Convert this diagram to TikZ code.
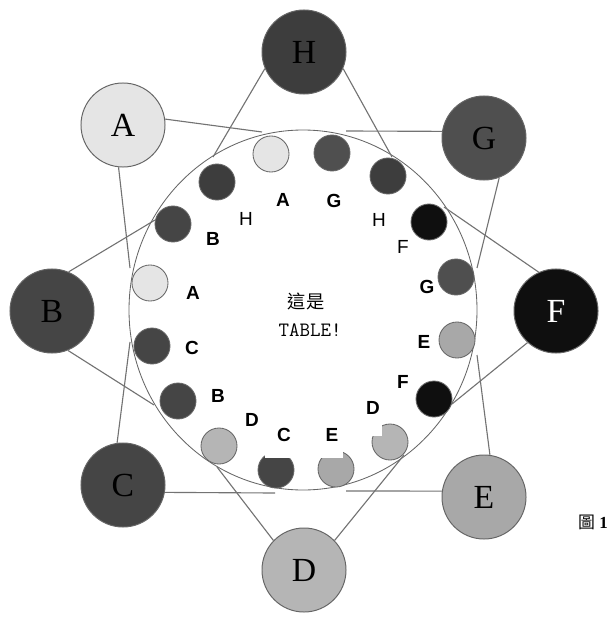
\documentclass[tikz,border=0pt]{standalone}
\usepackage{fontspec}
\setmainfont{Liberation Serif}
\setsansfont{Liberation Sans}
\newfontfamily\cjkfont{Noto Sans CJK TC}

\definecolor{seatA}{gray}{0.90}
\definecolor{seatB}{gray}{0.27}
\definecolor{seatC}{gray}{0.27}
\definecolor{seatD}{gray}{0.71}
\definecolor{seatE}{gray}{0.66}
\definecolor{seatF}{gray}{0.06}
\definecolor{seatG}{gray}{0.31}
\definecolor{seatH}{gray}{0.24}
\definecolor{rimgray}{gray}{0.40}
\definecolor{linkgray}{gray}{0.45}

\tikzset{
  guest/.style={shape=circle,draw=rimgray,line width=0.7pt,minimum size=2.1cm,inner sep=0pt,font=\fontsize{24}{24}\selectfont},
  seat/.style={shape=circle,draw=rimgray,line width=0.6pt,minimum size=0.9cm,inner sep=0pt},
  tag/.style={font=\sffamily\bfseries\fontsize{13.5}{13.5}\selectfont},
  thintag/.style={font=\sffamily\fontsize{13.5}{13.5}\selectfont},
  link/.style={draw=linkgray,line width=0.8pt},
}

\begin{document}
\begin{tikzpicture}[x=0.025cm,y=-0.025cm]
    \useasboundingbox (0,0) rectangle (608,617);
    % the table
    \draw[draw=rimgray,line width=0.6pt] (303,310) ellipse (174 and 180);

    % guests round the table
    \node[guest,fill=seatA](A) at (123,125) {A};
    \node[guest,fill=seatH](H) at (304,52)  {H};
    \node[guest,fill=seatG](G) at (484,138) {G};
    \node[guest,fill=seatF,text=white](F) at (556,311) {F};
    \node[guest,fill=seatE](E) at (484,497) {E};
    \node[guest,fill=seatD](D) at (304,570) {D};
    \node[guest,fill=seatC](C) at (123,485) {C};
    \node[guest,fill=seatB](B) at (52,311)  {B};

    % where the lines meet the table
    \coordinate (a1) at (262,132); \coordinate (a2) at (130,268);
    \coordinate (h1) at (213,157); \coordinate (h2) at (392,157);
    \coordinate (g1) at (346,131); \coordinate (g2) at (477,268);
    \coordinate (f1) at (444,207); \coordinate (f2) at (452,404);
    \coordinate (e1) at (477,355); \coordinate (e2) at (346,491);
    \coordinate (d1) at (404,455); \coordinate (d2) at (217,467);
    \coordinate (c1) at (275,493); \coordinate (c2) at (130,342);
    \coordinate (b1) at (155,220); \coordinate (b2) at (154,405);

    \draw[link] (A.8) -- (a1);   \draw[link] (A.264) -- (a2);
    \draw[link] (H.203) -- (h1); \draw[link] (H.-23) -- (h2);
    \draw[link] (G.171) -- (g1); \draw[link] (G.-69) -- (g2);
    \draw[link] (F.114) -- (f1); \draw[link] (F.228) -- (f2);
    \draw[link] (E.82) -- (e1);  \draw[link] (E.172) -- (e2);
    \draw[link] (D.44) -- (d1);  \draw[link] (D.136) -- (d2);
    \draw[link] (C.-10) -- (c1); \draw[link] (C.98) -- (c2);
    \draw[link] (B.67) -- (b1);  \draw[link] (B.-68) -- (b2);

    % seats at the table
    \node[seat,fill=seatA](s1)  at (271,154) {};
    \node[seat,fill=seatG](s2)  at (332,153) {};
    \node[seat,fill=seatH](s3)  at (388,176) {};
    \node[seat,fill=seatF](s4)  at (429,222) {};
    \node[seat,fill=seatG](s5)  at (456,277) {};
    \node[seat,fill=seatE](s6)  at (457,340) {};
    \node[seat,fill=seatF](s7)  at (434,399) {};
    \node[seat,fill=seatD](s8)  at (390,442) {};
    \node[seat,fill=seatE](s9)  at (336,469) {};
    \node[seat,fill=seatC](s10) at (276,470) {};
    \node[seat,fill=seatD](s11) at (219,446) {};
    \node[seat,fill=seatB](s12) at (178,401) {};
    \node[seat,fill=seatC](s13) at (152,346) {};
    \node[seat,fill=seatA](s14) at (150,283) {};
    \node[seat,fill=seatB](s15) at (173,224) {};
    \node[seat,fill=seatH](s16) at (217,182) {};

    % text boxes cut into three seats
    \fill[white] (265,436) rectangle (301,458);
    \fill[white] (315,436) rectangle (343,458);
    \fill[white] (368,418) rectangle (382,436);

    % name tags
    \node[tag](t1)      at (283,200) {A};
    \node[tag](t2)      at (334,201) {G};
    \node[thintag](t3)  at (379,220) {H};
    \node[thintag](t4)  at (403,247) {F};
    \node[tag](t5)      at (427,287) {G};
    \node[tag](t6)      at (424,342) {E};
    \node[tag](t7)      at (403,382) {F};
    \node[tag](t8)      at (373,408) {D};
    \node[tag](t9)      at (332,435) {E};
    \node[tag](t10)     at (284,435) {C};
    \node[tag](t11)     at (252,420) {D};
    \node[tag](t12)     at (218,396) {B};
    \node[tag](t13)     at (192,348) {C};
    \node[tag](t14)     at (193,293) {A};
    \node[tag](t15)     at (213,239) {B};
    \node[thintag](t16) at (246,219) {H};

    \node[font=\cjkfont\fontsize{13}{13}\selectfont](zh) at (306,301) {這是};
    \node[font=\ttfamily\fontsize{14.5}{14.5}\selectfont](tbl) at (310,330) {TABLE!};

    \node[anchor=east,inner sep=0pt,font=\fontsize{12}{12}\selectfont](fig) at (608,522) {{\cjkfont 圖} \textbf{1}};
\end{tikzpicture}
\end{document}
